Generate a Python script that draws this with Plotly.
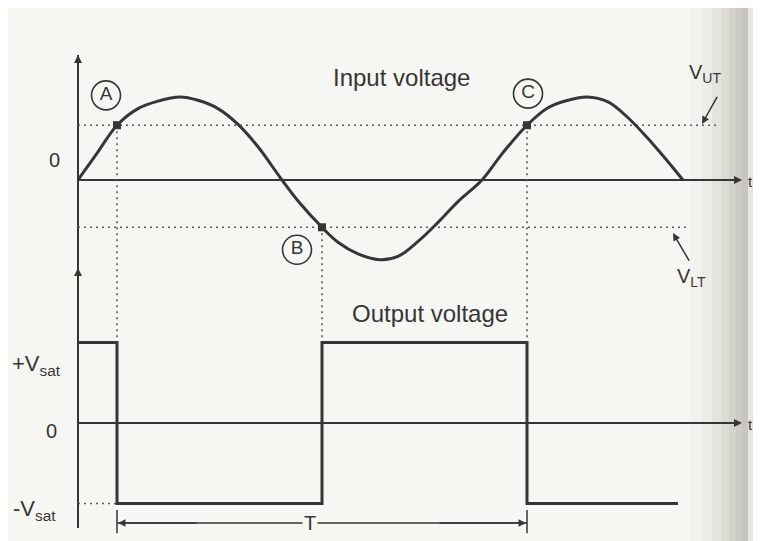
import plotly.graph_objects as go

# ---------------- data ----------------
# input voltage (time in arbitrary units, voltage relative to peak)
t_in = [0.00, 0.20, 0.39, 0.60, 0.80, 1.02, 1.20, 1.40, 1.60, 1.80, 2.04, 2.22,
        2.44, 2.60, 2.80, 3.02, 3.20, 3.40, 3.60, 3.80, 4.04, 4.25, 4.49, 4.70,
        4.90, 5.09, 5.30, 5.50, 5.70, 5.90, 6.05]
v_in = [0.00, 0.34, 0.66, 0.86, 0.95, 1.00, 0.96, 0.86, 0.67, 0.40, 0.00, -0.28,
        -0.57, -0.75, -0.89, -0.96, -0.92, -0.74, -0.51, -0.26, 0.00, 0.33, 0.66, 0.87,
        0.96, 1.00, 0.94, 0.75, 0.50, 0.22, 0.00]

# output voltage (square wave, +/-Vsat)
t_out = [0.00, 0.39, 0.39, 2.44, 2.44, 4.49, 4.49, 6.00]
v_out = [1, 1, -1, -1, 1, 1, -1, -1]

V_UT = 0.66
V_LT = -0.57
V_SAT = 1.0
switch_t = [0.39, 2.44, 4.49]
switch_v = [V_UT, V_LT, V_UT]
switch_lbl = ["A", "B", "C"]
circle_t = [0.28, 2.19, 4.50]
circle_v = [1.02, -0.84, 1.04]

# ---------------- layout helpers ----------------
# the page body adds an 8px offset, so the figure is 8px smaller
W, H = 753, 533
X_RANGE = [-0.70, 6.83]
Y_IN = [-4.349, 2.072]
Y_OUT = [-1.466, 5.155]

def out_to_in(v):
    frac = (v - Y_OUT[0]) / (Y_OUT[1] - Y_OUT[0])
    return Y_IN[0] + frac * (Y_IN[1] - Y_IN[0])

INK = "#363636"
DOT = "#5a5a5a"
BG = "#f6f6f3"
FONT = "Liberation Sans, Arial, sans-serif"
DASH = "2px,4px"

fig = go.Figure()

# axes lines
fig.add_trace(go.Scatter(x=[0, 0], y=[1.506, out_to_in(-1.304)], mode="lines",
                         line=dict(color=INK, width=2), yaxis="y"))
fig.add_trace(go.Scatter(x=[0, 6.62], y=[0, 0], mode="lines",
                         line=dict(color=INK, width=2), yaxis="y"))
fig.add_trace(go.Scatter(x=[0, 6.62], y=[0, 0], mode="lines",
                         line=dict(color=INK, width=2), yaxis="y2"))

# threshold dotted lines
fig.add_trace(go.Scatter(x=[0, 6.42], y=[V_UT, V_UT], mode="lines",
                         line=dict(color=DOT, width=1.6, dash=DASH), yaxis="y"))
fig.add_trace(go.Scatter(x=[0, 6.10], y=[V_LT, V_LT], mode="lines",
                         line=dict(color=DOT, width=1.6, dash=DASH), yaxis="y"))
# vertical dotted lines from switching points to the output
for t, v in zip(switch_t, switch_v):
    fig.add_trace(go.Scatter(x=[t, t], y=[v, out_to_in(V_SAT)], mode="lines",
                             line=dict(color=DOT, width=1.6, dash=DASH), yaxis="y"))
# -Vsat dotted
fig.add_trace(go.Scatter(x=[0, switch_t[0]], y=[-V_SAT, -V_SAT], mode="lines",
                         line=dict(color=DOT, width=1.6, dash=DASH), yaxis="y2"))

# input sine
fig.add_trace(go.Scatter(x=t_in, y=v_in, mode="lines",
                         line=dict(color=INK, width=3, shape="spline", smoothing=1.0),
                         yaxis="y"))
# output square
fig.add_trace(go.Scatter(x=t_out, y=v_out, mode="lines",
                         line=dict(color=INK, width=3), yaxis="y2"))

# switching points
fig.add_trace(go.Scatter(x=switch_t, y=switch_v, mode="markers",
                         marker=dict(symbol="square", size=8, color=INK), yaxis="y"))
# circled letters
fig.add_trace(go.Scatter(x=circle_t, y=circle_v, mode="markers+text",
                         text=switch_lbl, textposition="middle center",
                         textfont=dict(family=FONT, size=19, color=INK),
                         marker=dict(symbol="circle-open", size=29, color=INK,
                                     line=dict(color=INK, width=1.6)),
                         yaxis="y"))

# T span line and ticks
T_Y = -1.242
fig.add_trace(go.Scatter(x=[switch_t[0], switch_t[2]], y=[T_Y, T_Y], mode="lines",
                         line=dict(color=INK, width=1.5), yaxis="y2"))
for t in [switch_t[0], switch_t[2]]:
    fig.add_trace(go.Scatter(x=[t, t], y=[-1.08, -1.37], mode="lines",
                             line=dict(color=INK, width=1.5), yaxis="y2"))

ann = []
def arrow(x, y, ax, ay, yref="y", width=1.6, size=1.0, head=2):
    ann.append(dict(x=x, y=y, ax=ax, ay=ay, xref="x", yref=yref, axref="x",
                    ayref=yref, text="", showarrow=True, arrowhead=head,
                    arrowsize=size, arrowwidth=width, arrowcolor=INK,
                    standoff=0, startstandoff=0))

def label(x, y, text, size=20, yref="y", bg=None):
    d = dict(x=x, y=y, xref="x", yref=yref, text=text, showarrow=False,
             font=dict(family=FONT, size=size, color=INK))
    if bg:
        d["bgcolor"] = bg
    ann.append(d)

# axis arrowheads
arrow(0, 1.506, 0, 1.25, "y")
arrow(0, 1.925, 0, 1.65, "y2")
arrow(6.64, 0, 6.40, 0, "y")
arrow(6.64, 0, 6.40, 0, "y2")
# T arrows
arrow(switch_t[0] + 0.01, T_Y, 1.2, T_Y, "y2", width=1.5)
arrow(switch_t[2] - 0.01, T_Y, 3.6, T_Y, "y2", width=1.5)
# threshold pointer arrows
arrow(6.24, 0.675, 6.40, 1.02, "y", width=1.5)
arrow(5.95, -0.64, 6.12, -0.99, "y", width=1.5)

label(3.23, 1.24, "Input voltage", 24)
label(3.52, 1.354, "Output voltage", 24, "y2")
label(-0.24, 0.24, "0", 20)
label(-0.27, -0.10, "0", 20, "y2")
label(-0.42, 0.72, "+V<sub>sat</sub>", 22, "y2")
label(-0.44, -1.08, "-V<sub>sat</sub>", 22, "y2")
label(2.32, T_Y, "T", 20, "y2", bg=BG)
label(6.27, 1.28, "V<sub>UT</sub>", 20)
label(6.13, -1.18, "V<sub>LT</sub>", 20)
label(6.72, -0.02, "t", 15)
label(6.72, -0.02, "t", 15, "y2")

# right-edge scan shading
shapes = []
shade = ["#f2f2ef", "#ececE8", "#e4e4df", "#dcdcd5", "#d3d3cb", "#cbcbc3", "#c6c6be", "#e6e6e3"]
edges = [682, 694, 704, 713, 721, 728, 734, 740, 753]
for i, c in enumerate(shade):
    shapes.append(dict(type="rect", xref="paper", yref="paper",
                       x0=edges[i] / W, x1=edges[i + 1] / W, y0=0, y1=1,
                       fillcolor=c, line=dict(width=0), layer="below"))

fig.update_layout(
    width=W, height=H, margin=dict(l=0, r=0, t=0, b=0),
    paper_bgcolor=BG, plot_bgcolor=BG, showlegend=False,
    xaxis=dict(range=X_RANGE, visible=False, fixedrange=True),
    yaxis=dict(range=Y_IN, visible=False, fixedrange=True, domain=[0, 1]),
    yaxis2=dict(range=Y_OUT, visible=False, fixedrange=True, overlaying="y"),
    annotations=ann, shapes=shapes,
)

fig.write_html("out.html")
